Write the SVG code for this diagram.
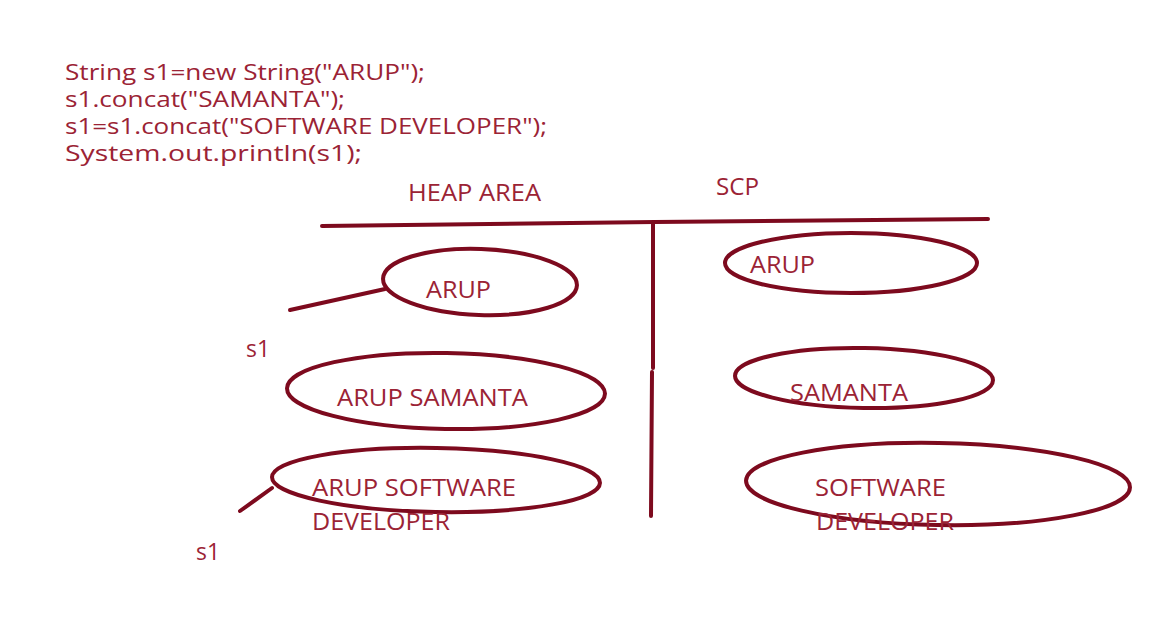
<svg xmlns="http://www.w3.org/2000/svg" width="1152" height="639" viewBox="0 0 1152 639">
<style>
text{font-family:"Open Sans","Liberation Sans",sans-serif;fill:#9b2335;}
.code{font-size:22px;}
.lbl{font-size:24px;}
.sh{fill:none;stroke:#7d0a1e;stroke-width:4;stroke-linecap:round;}
</style>
<rect width="1152" height="639" fill="#ffffff"/>
<g id="code">
<text class="code" x="65" y="80" textLength="360" lengthAdjust="spacingAndGlyphs">String s1=new String("ARUP");</text>
<text class="code" x="65" y="107" textLength="280" lengthAdjust="spacingAndGlyphs">s1.concat("SAMANTA");</text>
<text class="code" x="65" y="134" textLength="482" lengthAdjust="spacingAndGlyphs">s1=s1.concat("SOFTWARE DEVELOPER");</text>
<text class="code" x="65" y="161" textLength="297" lengthAdjust="spacingAndGlyphs">System.out.println(s1);</text>
</g>
<g id="headers">
<text class="lbl" x="408" y="201" textLength="133" lengthAdjust="spacingAndGlyphs">HEAP AREA</text>
<text class="lbl" x="716" y="195" textLength="43" lengthAdjust="spacingAndGlyphs">SCP</text>
</g>
<g id="dividers">
<path class="sh" d="M322,226 L655,222 L988,219"/>
<path class="sh" d="M653,224 L653,368 M652,372 L651,516"/>
</g>
<g id="heap-arup">
<ellipse class="sh" cx="480" cy="282" rx="97" ry="33" transform="rotate(2 480 282)"/>
<text class="lbl" x="426" y="298" textLength="65" lengthAdjust="spacingAndGlyphs">ARUP</text>
</g>
<g id="heap-arup-samanta">
<ellipse class="sh" cx="446" cy="391" rx="159" ry="38" transform="rotate(1 446 391)"/>
<text class="lbl" x="337" y="406" textLength="191" lengthAdjust="spacingAndGlyphs">ARUP SAMANTA</text>
</g>
<g id="heap-arup-software">
<ellipse class="sh" cx="436" cy="480" rx="164" ry="32" transform="rotate(1 436 480)"/>
<text class="lbl" x="312" y="496" textLength="204" lengthAdjust="spacingAndGlyphs">ARUP SOFTWARE</text>
<text class="lbl" x="312" y="530" textLength="138" lengthAdjust="spacingAndGlyphs">DEVELOPER</text>
</g>
<g id="scp-arup">
<ellipse class="sh" cx="851" cy="263" rx="126" ry="30"/>
<text class="lbl" x="750" y="273" textLength="65" lengthAdjust="spacingAndGlyphs">ARUP</text>
</g>
<g id="scp-samanta">
<ellipse class="sh" cx="864" cy="378" rx="129" ry="30" transform="rotate(1 864 378)"/>
<text class="lbl" x="790" y="401" textLength="118" lengthAdjust="spacingAndGlyphs">SAMANTA</text>
</g>
<g id="scp-software">
<ellipse class="sh" cx="938" cy="484" rx="192" ry="41" transform="rotate(1 938 484)"/>
<text class="lbl" x="815" y="496" textLength="131" lengthAdjust="spacingAndGlyphs">SOFTWARE</text>
<text class="lbl" x="816" y="530" textLength="138" lengthAdjust="spacingAndGlyphs">DEVELOPER</text>
</g>
<g id="ref-s1-a">
<text class="lbl" x="246" y="357" textLength="24" lengthAdjust="spacingAndGlyphs">s1</text>
</g>
<g id="ref-s1-b">
<text class="lbl" x="196" y="560" textLength="24" lengthAdjust="spacingAndGlyphs">s1</text>
</g>
<g id="connectors">
<path class="sh" d="M290,310 L385,289"/>
<path class="sh" d="M240,511 L272,488"/>
</g>
</svg>
